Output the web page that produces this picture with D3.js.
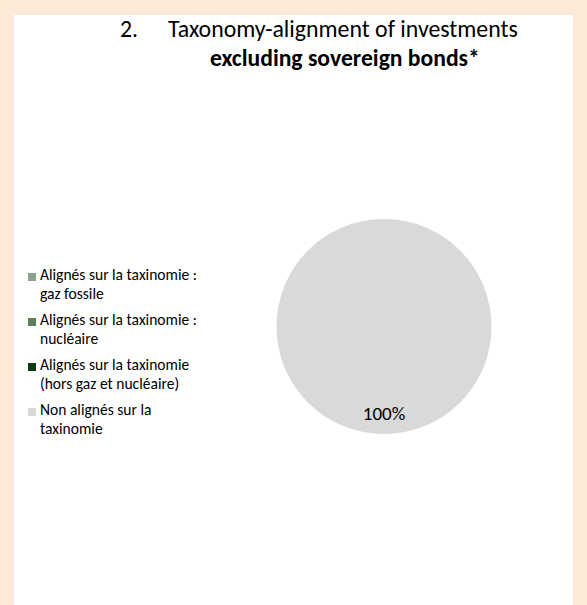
<!DOCTYPE html>
<html>
<head>
<meta charset="utf-8">
<script src="https://cdn.jsdelivr.net/npm/d3@7"></script>
<style>
  html, body { margin: 0; padding: 0; background: #FCE9D7; }
  svg { display: block; }
  text { font-family: Carlito, Calibri, Lato, "Open Sans", sans-serif; fill: #000; }
</style>
</head>
<body>
<svg id="chart" width="587" height="605"></svg>
<script>
// ---- data ----
const titleNumber = "2.";
const titleLine1 = "Taxonomy-alignment of investments";
const titleLine2 = "excluding sovereign bonds*";
const categories = [
  ["Alignés sur la taxinomie :", "gaz fossile"],
  ["Alignés sur la taxinomie :", "nucléaire"],
  ["Alignés sur la taxinomie", "(hors gaz et nucléaire)"],
  ["Non alignés sur la", "taxinomie"]
];
const values = [0, 0, 0, 100];
const colors = ["#8CA38C", "#5A7F5E", "#0E3A10", "#D9D9D9"];

// ---- drawing ----
const svg = d3.select("#chart");
svg.append("rect").attr("x", 0).attr("y", 0).attr("width", 587).attr("height", 605).attr("fill", "#FCE9D7");
svg.append("rect").attr("x", 14).attr("y", 15).attr("width", 559).attr("height", 590).attr("fill", "#FFFFFF");

function fit(sel, target, base) {
  sel.style("font-size", base + "px");
  const w = sel.node().getComputedTextLength();
  const s = base * target / w;
  sel.style("font-size", s.toFixed(2) + "px");
  return s;
}

// title
const t0 = svg.append("text").attr("x", 120).attr("y", 37).text(titleNumber);
const t1 = svg.append("text").attr("x", 168).attr("y", 37).text(titleLine1);
const s1 = fit(t1, 350, 20);
t0.style("font-size", s1 + "px");
const t2 = svg.append("text").attr("x", 210).attr("y", 66).style("font-weight", "bold").text(titleLine2);
fit(t2, 270, 20);

// pie
const cx = 384, cy = 326.5, r = 107.5;
const pie = d3.pie().sort(null).value(d => d);
const arcs = pie(values);
const arc = d3.arc().innerRadius(0).outerRadius(r);
const labelArc = d3.arc().innerRadius(r * 0.81).outerRadius(r * 0.81);
const g = svg.append("g").attr("transform", `translate(${cx},${cy})`);
g.selectAll("path").data(arcs).join("path")
  .attr("d", arc)
  .attr("fill", (d, i) => colors[i]);
const total = d3.sum(values);
g.selectAll("text.lbl").data(arcs.filter(d => d.data > 0)).join("text")
  .attr("class", "lbl")
  .attr("transform", d => `translate(${labelArc.centroid(d)})`)
  .attr("text-anchor", "middle")
  .attr("dy", "0.35em")
  .style("font-size", "19px")
  .text(d => Math.round(d.data / total * 100) + "%");

// legend
const leg = svg.append("g");
const probe = leg.append("text").attr("x", 40).attr("y", -100).text(categories[0][0]);
const ls = fit(probe, 157, 13);
probe.remove();
const y0 = 280, step = 45, lh = 19;
categories.forEach((lines, i) => {
  const by = y0 + i * step;
  leg.append("rect").attr("x", 28).attr("y", by - 7).attr("width", 8).attr("height", 8).attr("fill", colors[i]);
  lines.forEach((ln, j) => {
    leg.append("text").attr("x", 40).attr("y", by + j * lh).style("font-size", ls + "px").text(ln);
  });
});
</script>
</body>
</html>
